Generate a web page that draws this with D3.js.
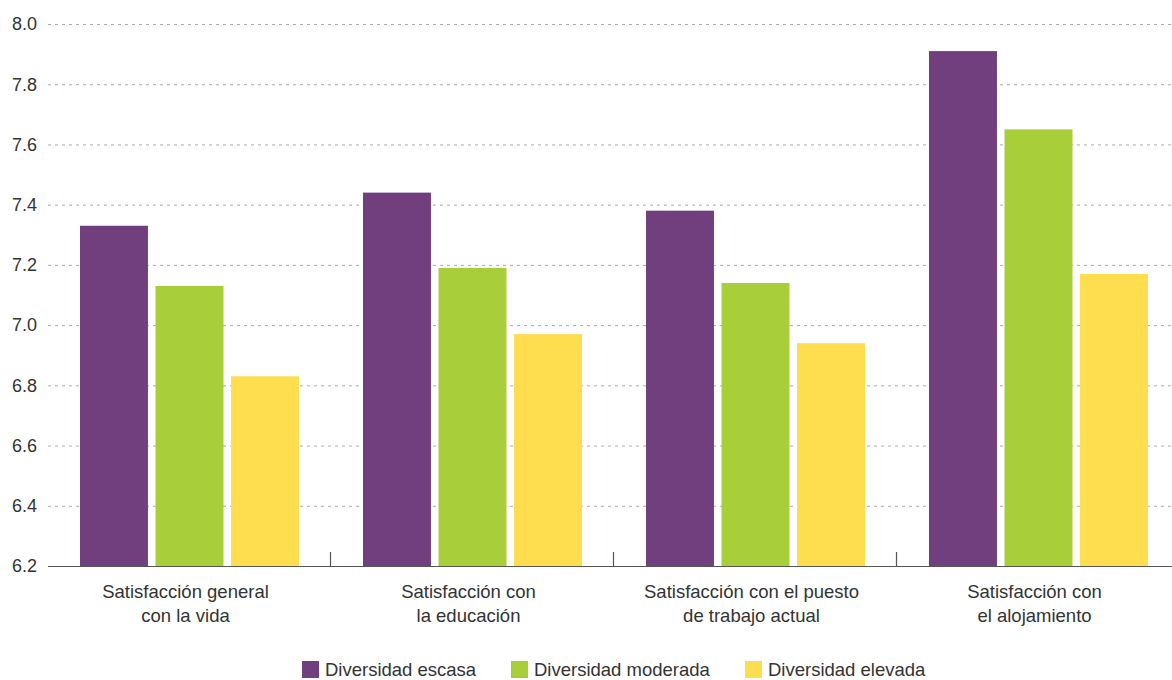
<!DOCTYPE html>
<html>
<head>
<meta charset="utf-8">
<script src="https://cdn.jsdelivr.net/npm/d3@7"></script>
<style>
  body { margin: 0; background: #fff; }
  svg { display: block; font-family: "Liberation Sans", Arial, sans-serif; }
</style>
</head>
<body>
<div id="chart"></div>
<script>
// categorias (cada una en dos lineas)
let categories = [
    ["Satisfacción general", "con la vida"],
    ["Satisfacción con", "la educación"],
    ["Satisfacción con el puesto", "de trabajo actual"],
    ["Satisfacción con", "el alojamiento"]
];
let seriesNames = ["Diversidad escasa", "Diversidad moderada", "Diversidad elevada"];
let escasa = [7.33, 7.44, 7.38, 7.91];
let moderada = [7.13, 7.19, 7.14, 7.65];
let elevada = [6.83, 6.97, 6.94, 7.17];
let yTicks = [6.2, 6.4, 6.6, 6.8, 7.0, 7.2, 7.4, 7.6, 7.8, 8.0];
let colors = ["#723f7e", "#a8ce3a", "#fedd4f"];

(function () {
    let width = 1172, height = 680;
    let margin = { top: 24, bottom: 114, left: 47 };
    let groupW = 283;
    let series = [escasa, moderada, elevada];

    let svg = d3.select("#chart").append("svg")
        .attr("width", width)
        .attr("height", height);

    let x0 = d3.scaleBand()
        .domain(categories.map((d, i) => i))
        .range([margin.left, margin.left + groupW * categories.length])
        .padding(0);

    let x1 = d3.scaleBand()
        .domain(seriesNames)
        .range([33, 252])
        .paddingInner(0.1);

    let y = d3.scaleLinear()
        .domain([6.2, 8.0])
        .range([height - margin.bottom, margin.top]);

    // grid lines
    svg.append("g")
        .selectAll("line")
        .data(yTicks.slice(1))
        .enter()
        .append("line")
        .attr("x1", margin.left + 1)
        .attr("x2", width)
        .attr("y1", d => y(d) + 0.5)
        .attr("y2", d => y(d) + 0.5)
        .attr("stroke", "#aaa")
        .attr("stroke-width", 1)
        .attr("stroke-dasharray", "3,4");

    // y labels
    svg.append("g")
        .selectAll("text")
        .data(yTicks)
        .enter()
        .append("text")
        .attr("x", 37)
        .attr("y", d => y(d))
        .attr("dy", "0.35em")
        .attr("text-anchor", "end")
        .attr("fill", "#333")
        .style("font-size", "18px")
        .text(d => d3.format(".1f")(d));

    // bars
    let groups = svg.append("g")
        .selectAll("g")
        .data(categories.map((c, i) => i))
        .enter()
        .append("g")
        .attr("transform", d => "translate(" + x0(d) + ",0)");

    groups.selectAll("rect")
        .data(i => series.map((s, k) => ({ name: seriesNames[k], value: s[i], k: k })))
        .enter()
        .append("rect")
        .attr("x", d => x1(d.name))
        .attr("width", x1.bandwidth())
        .attr("y", d => y(d.value))
        .attr("height", d => y(6.2) - y(d.value))
        .attr("fill", d => colors[d.k]);

    // x axis line
    let baseY = y(6.2);
    svg.append("line")
        .attr("x1", margin.left + 1)
        .attr("x2", width)
        .attr("y1", baseY + 0.5)
        .attr("y2", baseY + 0.5)
        .attr("stroke", "#555")
        .attr("stroke-width", 1.2);

    // separators between groups
    svg.append("g")
        .selectAll("line")
        .data(categories.slice(1).map((c, i) => i + 1))
        .enter()
        .append("line")
        .attr("x1", d => x0(d) + 0.5)
        .attr("x2", d => x0(d) + 0.5)
        .attr("y1", baseY - 14)
        .attr("y2", baseY)
        .attr("stroke", "#555")
        .attr("stroke-width", 1.2);

    // category labels
    let labels = svg.append("g")
        .selectAll("text")
        .data(categories)
        .enter()
        .append("text")
        .attr("x", (d, i) => x0(i) + x0.bandwidth() / 2 - 3)
        .attr("y", baseY + 32)
        .attr("text-anchor", "middle")
        .attr("fill", "#333")
        .style("font-size", "18.5px");
    labels.selectAll("tspan")
        .data(d => d)
        .enter()
        .append("tspan")
        .attr("x", function () { return d3.select(this.parentNode).attr("x"); })
        .attr("dy", (d, i) => i == 0 ? 0 : 24)
        .text(d => d);

    // legend
    let legendX = [302, 511, 745];
    let legend = svg.append("g")
        .selectAll("g")
        .data(seriesNames)
        .enter()
        .append("g")
        .attr("transform", (d, i) => "translate(" + legendX[i] + ",661)");
    legend.append("rect")
        .attr("width", 17)
        .attr("height", 17)
        .attr("fill", (d, i) => colors[i]);
    legend.append("text")
        .attr("x", 23)
        .attr("y", 8.5)
        .attr("dy", "0.33em")
        .attr("fill", "#333")
        .style("font-size", "18.5px")
        .text(d => d);
})();
</script>
</body>
</html>
